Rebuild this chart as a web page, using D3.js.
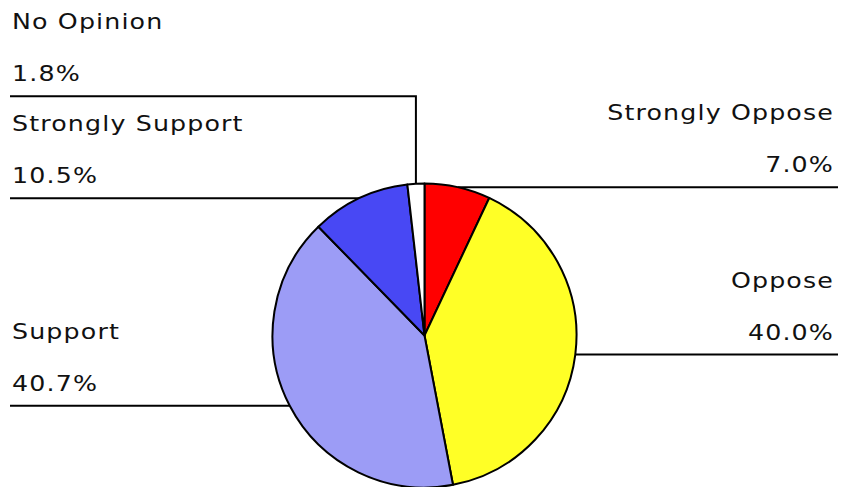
<!DOCTYPE html>
<html>
<head>
<meta charset="utf-8">
<script src="https://cdn.jsdelivr.net/npm/d3@7"></script>
<style>
  html, body { margin: 0; padding: 0; background: #fff; }
  svg { display: block; }
  text { font-family: "DejaVu Sans", Verdana, sans-serif; font-size: 22px; fill: #111; letter-spacing: 1px; }
</style>
</head>
<body>
<svg id="chart" width="841" height="487"></svg>
<script>
// ---- data ----
const categories = ["Strongly Oppose", "Oppose", "Support", "Strongly Support", "No Opinion"];
const values = [7.0, 40.0, 40.7, 10.5, 1.8];
const valueLabels = ["7.0%", "40.0%", "40.7%", "10.5%", "1.8%"];
const colors = ["#FF0000", "#FFFF26", "#9C9CF6", "#4848F4", "#FFFFFF"];

// ---- layout ----
const W = 841, H = 487;
const cx = 424.5, cy = 335.5, R = 152;
const leftX = 10, rightX = 838;
const textLeft = 12, textRight = 834;
const blockH = 102;
const stretch = 1.15;

const svg = d3.select("#chart");

const data = categories.map((c, i) => ({ name: c, value: values[i], label: valueLabels[i], color: colors[i] }));

const pie = d3.pie().value(d => d.value).sort(null).startAngle(0).endAngle(2 * Math.PI);
const arcs = pie(data);
const arcGen = d3.arc().innerRadius(0).outerRadius(R);

// leader anchor points
arcs.forEach(a => {
  const mid = (a.startAngle + a.endAngle) / 2;
  a.px = cx + R * Math.sin(mid);
  a.py = cy - R * Math.cos(mid);
  a.side = Math.sin(mid) >= 0 ? "right" : "left";
  a.ly = a.py;
});

// resolve collisions
const left = arcs.filter(a => a.side === "left").sort((a, b) => b.py - a.py);
for (let i = 1; i < left.length; i++) {
  if (left[i - 1].ly - left[i].ly < blockH) left[i].ly = left[i - 1].ly - blockH;
}
const right = arcs.filter(a => a.side === "right").sort((a, b) => a.py - b.py);
for (let i = 1; i < right.length; i++) {
  if (right[i].ly - right[i - 1].ly < blockH) right[i].ly = right[i - 1].ly + blockH;
}

// leader lines (under the pie)
const lines = svg.append("g");
arcs.forEach(a => {
  const endX = a.side === "left" ? leftX : rightX;
  const pts = [[a.px, a.py]];
  if (Math.abs(a.ly - a.py) > 0.5) pts.push([a.px, a.ly]);
  pts.push([endX, a.ly]);
  lines.append("path")
    .attr("d", d3.line()(pts))
    .attr("fill", "none")
    .attr("stroke", "#000")
    .attr("stroke-width", 2);
});

// pie slices
svg.append("g")
  .attr("transform", `translate(${cx},${cy})`)
  .selectAll("path")
  .data(arcs)
  .join("path")
  .attr("d", arcGen)
  .attr("fill", d => d.data.color)
  .attr("stroke", "#000")
  .attr("stroke-width", 2)
  .attr("stroke-linejoin", "round");

// labels
const labels = svg.append("g");
arcs.forEach(a => {
  const isLeft = a.side === "left";
  const x = isLeft ? textLeft : textRight;
  const anchor = isLeft ? "start" : "end";
  [[a.data.name, a.ly - 67], [a.data.label, a.ly - 15]].forEach(([t, y]) => {
    labels.append("text")
      .attr("transform", `translate(${x},${y}) scale(${stretch},1)`)
      .attr("text-anchor", anchor)
      .text(t);
  });
});
</script>
</body>
</html>
